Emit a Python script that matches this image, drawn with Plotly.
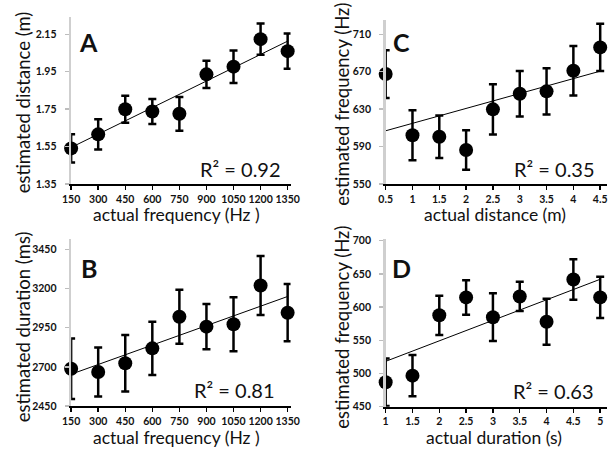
import numpy as np
import plotly.graph_objects as go

W, H = 616, 454

# ---------------- data ----------------
freq_hz = [150, 300, 450, 600, 750, 900, 1050, 1200, 1350]
dist_m = [0.5, 1, 1.5, 2, 2.5, 3, 3.5, 4, 4.5]
dur_s = [1, 1.5, 2, 2.5, 3, 3.5, 4, 4.5, 5]

freq_labels = ["150", "300", "450", "600", "750", "900", "1050", "1200", "1350"]
dist_labels = ["0.5", "1", "1.5", "2", "2.5", "3", "3.5", "4", "4.5"]
dur_labels = ["1", "1.5", "2", "2.5", "3", "3.5", "4", "4.5", "5"]

a_est_distance = [1.540, 1.615, 1.749, 1.737, 1.725, 1.936, 1.977, 2.124, 2.060]
a_err = [0.076, 0.081, 0.072, 0.067, 0.090, 0.073, 0.087, 0.084, 0.094]

b_est_duration = [2688, 2667, 2723, 2818, 3020, 2957, 2972, 3220, 3046]
b_err = [193, 156, 180, 170, 172, 145, 173, 188, 183]

c_est_frequency = [667.5, 602, 600.5, 586.3, 629.8, 646.5, 649, 671, 696]
c_err = [25.6, 26.7, 22.8, 21, 26.8, 24.4, 24.6, 26.5, 25.3]

d_est_frequency = [486.8, 496.7, 587.6, 614.6, 584.7, 616, 577.8, 641.6, 614.6]
d_err = [35.7, 31, 29.5, 26, 36, 22, 34.7, 30.6, 31]

a_yticks = [1.35, 1.55, 1.75, 1.95, 2.15]
b_yticks = [2450, 2700, 2950, 3200, 3450]
c_yticks = [550, 590, 630, 670, 710]
d_yticks = [450, 500, 550, 600, 650, 700]

r2_text = ["R² = 0.92", "R² = 0.81", "R² = 0.35", "R² = 0.63"]

# ---------------- layout helpers ----------------
FONT = "Lato"
panels = [
    dict(x=freq_hz, y=a_est_distance, e=a_err, xl=freq_labels, yt=a_yticks,
         xt="actual frequency (Hz )", yttl="estimated distance (m)", L="A", r2=r2_text[0],
         box=(64, 290, 13, 184), xr=[150, 1366], yr=[1.35, 2.244], yfmt=".2f",
         xtc=(173, 215), ytc=(14, 101), Lc=(82, 39), r2c=(282, 169)),
    dict(x=freq_hz, y=b_est_duration, e=b_err, xl=freq_labels, yt=b_yticks,
         xt="actual frequency (Hz )", yttl="estimated duration (ms)", L="B", r2=r2_text[1],
         box=(64, 290, 240, 411), xr=[150, 1366], yr=[2450, 3519], yfmt="d",
         xtc=(173, 443.5), ytc=(14, 330), Lc=(82, 270), r2c=(276, 395)),
    dict(x=dist_m, y=c_est_frequency, e=c_err, xl=dist_labels, yt=c_yticks,
         xt="actual distance (m)", yttl="estimated frequency (Hz)", L="C", r2=r2_text[2],
         box=(388, 616, 16, 184), xr=[0.5, 4.627], yr=[550, 725.7], yfmt="d",
         xtc=(501, 215), ytc=(343, 102), Lc=(404, 39), r2c=(606, 169)),
    dict(x=dur_s, y=d_est_frequency, e=d_err, xl=dur_labels, yt=d_yticks,
         xt="actual duration (s)", yttl="estimated frequency (Hz)", L="D", r2=r2_text[3],
         box=(388, 616, 240, 411.7), xr=[1, 5.127], yr=[450, 703], yfmt="d",
         xtc=(500, 443), ytc=(343, 330), Lc=(404, 270), r2c=(605, 396)),
]

fig = go.Figure()
annotations = []
layout = {}


def fx(px):
    return px / W


def fy(py):
    return 1 - py / H


for i, p in enumerate(panels):
    n = "" if i == 0 else str(i + 1)
    xa, ya = "x" + n, "y" + n
    l, r, t, b = p["box"]

    fig.add_trace(go.Scatter(
        x=p["x"], y=p["y"], mode="markers", xaxis=xa, yaxis=ya,
        marker=dict(size=14, color="black"),
        error_y=dict(type="data", array=p["e"], visible=True, color="black",
                     thickness=2.5, width=4),
        cliponaxis=False, showlegend=False, hoverinfo="skip"))

    # linear trend computed from the data
    slope, icpt = np.polyfit(np.array(p["x"], float), np.array(p["y"], float), 1)
    xs = np.array([min(p["x"]), max(p["x"])], float)
    fig.add_trace(go.Scatter(
        x=xs, y=slope * xs + icpt, mode="lines", xaxis=xa, yaxis=ya,
        line=dict(color="black", width=1), showlegend=False, hoverinfo="skip",
        cliponaxis=False))

    layout["xaxis" + n] = dict(
        domain=[fx(l), fx(r)], anchor=ya, range=p["xr"],
        tickmode="array", tickvals=p["x"], ticktext=p["xl"], tickangle=0,
        showline=True, linecolor="black", linewidth=2,
        ticks="outside", ticklen=4, tickwidth=1.5, tickcolor="black",
        showgrid=False, zeroline=False, ticklabelstandoff=0,
        tickfont=dict(family=FONT, size=10.5, color="#111", weight="bold"))
    layout["yaxis" + n] = dict(
        domain=[fy(b), fy(t)], anchor=xa, range=p["yr"],
        tickmode="array", tickvals=p["yt"],
        ticktext=[format(v, p["yfmt"]) for v in p["yt"]],
        showline=True, linecolor="#cfcfcf", linewidth=2.5,
        ticks="outside", ticklen=4, tickwidth=1.5, tickcolor="#bdbdbd",
        showgrid=False, zeroline=False, ticklabelstandoff=6,
        tickfont=dict(family=FONT, size=10.5, color="#111", weight="bold"))

    annotations.append(dict(text=p["L"], x=fx(p["Lc"][0]), y=fy(p["Lc"][1]),
                            xref="paper", yref="paper", showarrow=False,
                            xanchor="center", yanchor="middle",
                            font=dict(family=FONT, size=25, color="#111", weight="bold")))
    annotations.append(dict(text=p["r2"], x=fx(p["r2c"][0]), y=fy(p["r2c"][1]),
                            xref="paper", yref="paper", showarrow=False,
                            xanchor="right", yanchor="middle",
                            font=dict(family=FONT, size=20, color="#111")))
    annotations.append(dict(text=p["xt"], x=fx(p["xtc"][0]), y=fy(p["xtc"][1]),
                            xref="paper", yref="paper", showarrow=False,
                            xanchor="center", yanchor="middle",
                            font=dict(family=FONT, size=17.5, color="#111")))
    annotations.append(dict(text=p["yttl"], x=fx(p["ytc"][0]), y=fy(p["ytc"][1]),
                            xref="paper", yref="paper", textangle=-90, showarrow=False,
                            xanchor="center", yanchor="middle",
                            font=dict(family=FONT, size=18.5, color="#111")))

fig.update_layout(
    width=W, height=H, margin=dict(l=0, r=0, t=0, b=0),
    paper_bgcolor="white", plot_bgcolor="white",
    annotations=annotations, **layout)

fig.write_html(
    "out.html",
    config={"displayModeBar": False, "staticPlot": True},
    post_script="document.body.style.margin='0px';document.body.style.overflow='hidden';",
)
